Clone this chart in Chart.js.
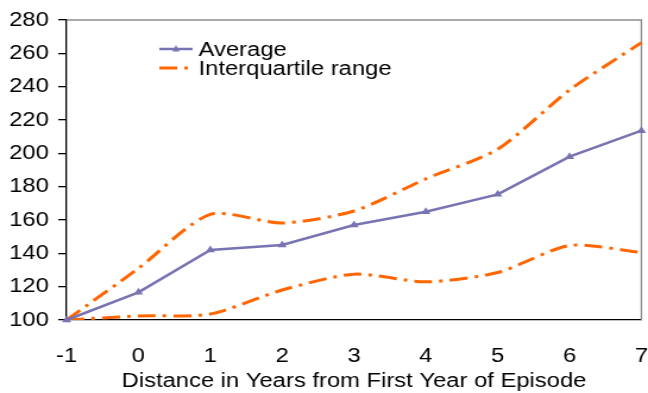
<!DOCTYPE html>
<html>
<head>
<meta charset="utf-8">
<script src="https://cdn.jsdelivr.net/npm/chart.js@4/dist/chart.umd.min.js"></script>
<style>
  html, body { margin: 0; padding: 0; background: #fff; overflow: hidden; }
  /* the original picture is stretched sideways, so the canvas is too */
  #chart { display: block; transform-origin: 0 0; transform: scaleX(1.189); }
</style>
</head>
<body>
<canvas id="chart" width="545" height="393"></canvas>
<script>
const years = ['-1', '0', '1', '2', '3', '4', '5', '6', '7'];
const average = [100, 116.6, 142, 145, 157, 165, 175.4, 198, 213.6];
const iqrUpper = [100, 131, 163.4, 158.2, 165.4, 184.7, 202.5, 238, 266.4];
const iqrLower = [100, 102.4, 103.6, 118, 127.5, 122.9, 128.5, 144.7, 140.5];
const yTicks = [100, 120, 140, 160, 180, 200, 220, 240, 260, 280];

const avgColor = '#7873b3';
const iqrColor = '#ff6600';
const iqrDash = [15, 6, 3, 6];
const fontFamily = '"Liberation Sans", Arial, sans-serif';

// gray top/right frame of the plot
const framePlugin = {
    id: 'frame',
    beforeDatasetsDraw(chart) {
        const a = chart.chartArea;
        const c = chart.ctx;
        c.save();
        c.strokeStyle = '#8c8c8c';
        c.lineWidth = 1.3;
        c.beginPath();
        c.moveTo(a.left, a.top);
        c.lineTo(a.right, a.top);
        c.lineTo(a.right, a.bottom);
        c.stroke();
        c.restore();
    }
};

// legend placed inside the plot area
const innerLegend = {
    id: 'innerLegend',
    afterDraw(chart) {
        const a = chart.chartArea;
        const c = chart.ctx;
        const x0 = a.left + 78, x1 = a.left + 106;
        const rows = [
            { text: 'Average', ds: chart.data.datasets[0], y: a.top + 29 },
            { text: 'Interquartile range', ds: chart.data.datasets[1], y: a.top + 48 }
        ];
        c.save();
        rows.forEach(r => {
            c.strokeStyle = r.ds.borderColor;
            c.lineWidth = r.ds.borderWidth;
            c.setLineDash(r.ds.borderDash || []);
            c.beginPath();
            c.moveTo(x0, r.y);
            c.lineTo(x1, r.y);
            c.stroke();
            c.setLineDash([]);
            if (r.ds.pointStyle === 'triangle') {
                const mx = (x0 + x1) / 2;
                c.fillStyle = r.ds.borderColor;
                c.beginPath();
                c.moveTo(mx, r.y - 4);
                c.lineTo(mx + 3, r.y + 2.5);
                c.lineTo(mx - 3, r.y + 2.5);
                c.closePath();
                c.fill();
            }
            c.fillStyle = '#000';
            c.font = '20px ' + fontFamily;
            c.textBaseline = 'middle';
            c.textAlign = 'left';
            c.fillText(r.text, x1 + 5, r.y + 1);
        });
        c.restore();
    }
};

const ctx = document.getElementById('chart').getContext('2d');
new Chart(ctx, {
    type: 'line',
    data: {
        labels: years,
        datasets: [{
            label: 'Average',
            data: average,
            borderColor: avgColor,
            backgroundColor: avgColor,
            borderWidth: 2.5,
            pointStyle: 'triangle',
            pointRadius: 4.5,
            pointBorderWidth: 0,
            tension: 0,
            clip: false,
            order: 0
        }, {
            label: 'Interquartile range',
            data: iqrUpper,
            borderColor: iqrColor,
            borderWidth: 3,
            borderDash: iqrDash,
            pointRadius: 0,
            tension: 0.25,
            order: 1
        }, {
            label: 'Interquartile range (lower)',
            data: iqrLower,
            borderColor: iqrColor,
            borderWidth: 3,
            borderDash: iqrDash,
            pointRadius: 0,
            tension: 0.25,
            order: 1
        }]
    },
    options: {
        responsive: false,
        animation: false,
        layout: { padding: { left: 0, right: 0, top: 6, bottom: 0 } },
        plugins: {
            legend: { display: false },
            tooltip: { enabled: false }
        },
        scales: {
            x: {
                offset: false,
                afterFit(axis) { axis.height = 73; },
                grid: {
                    drawOnChartArea: false,
                    drawTicks: true,
                    tickLength: 24,
                    tickColor: 'rgba(0,0,0,0)'
                },
                border: { display: true, color: '#000', width: 1.3 },
                ticks: {
                    color: '#000',
                    padding: 0,
                    maxRotation: 0,
                    font: { family: fontFamily, size: 20 }
                },
                title: {
                    display: true,
                    text: 'Distance in Years from First Year of Episode',
                    color: '#000',
                    padding: 0,
                    font: { family: fontFamily, size: 20 }
                }
            },
            y: {
                min: 100,
                max: 280,
                afterFit(axis) { axis.width = 56; },
                afterBuildTicks(axis) {
                    axis.ticks = yTicks.map(v => ({ value: v }));
                },
                grid: {
                    drawOnChartArea: false,
                    drawTicks: true,
                    tickLength: 7,
                    color: '#000',
                    lineWidth: 1.3
                },
                border: { display: true, color: '#000', width: 1.3 },
                ticks: {
                    color: '#000',
                    padding: 8,
                    font: { family: fontFamily, size: 20 }
                }
            }
        }
    },
    plugins: [framePlugin, innerLegend]
});
</script>
</body>
</html>
